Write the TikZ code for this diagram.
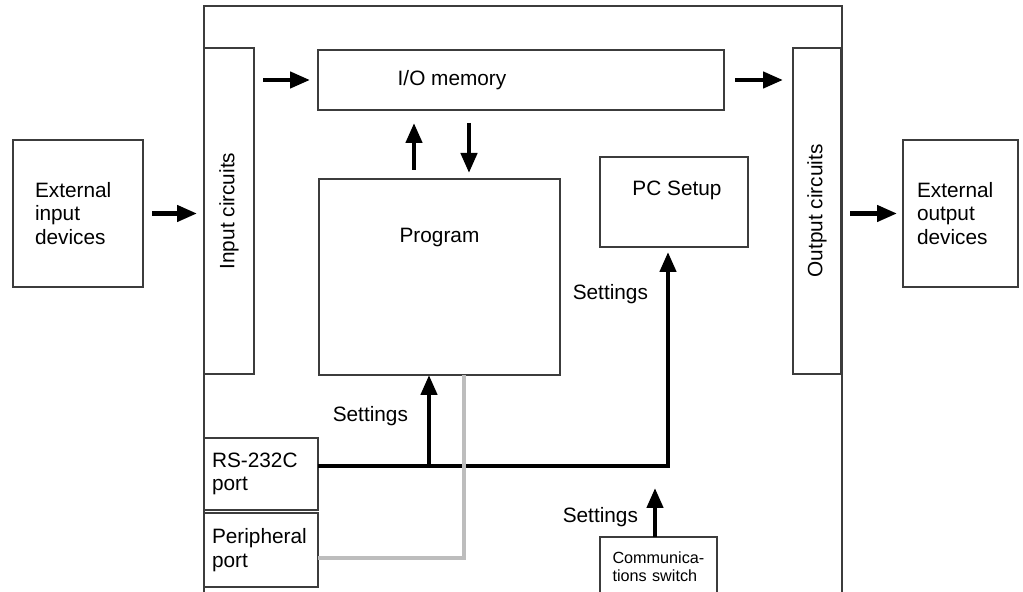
\documentclass[tikz,border=0pt]{standalone}
\usepackage{fontspec}
\setmainfont{Liberation Sans}
\usetikzlibrary{arrows.meta,calc,positioning}
\definecolor{boxline}{HTML}{3C3C3C}
\definecolor{cable}{HTML}{BDBDBD}

\begin{document}
\begin{tikzpicture}[x=0.5pt,y=-0.5pt, line join=miter,
  font=\fontsize{10.4}{11.8}\selectfont,
  box/.style={draw=boxline, line width=1.2pt, outer sep=0pt, inner sep=0pt},
  textbox/.style={box, align=left, inner xsep=#1},
  arr/.style={-{Triangle[length=10pt,width=8pt]}, line width=2.2pt},
  cable/.style={draw=cable, line width=2.2pt}]
  \useasboundingbox (0,0) rectangle (1023,592);
  \clip (0,0) rectangle (1023,592);
  % the PC frame, open at the bottom
  \draw[box] (204,600) -- (204,6) -- (842,6) -- (842,600);
  % outside devices
  \node[textbox=11pt, text width=43pt, minimum width=65pt, minimum height=73.5pt]
    (extin) at (78,213.5) {External\\input\\devices};
  \node[textbox=7pt, text width=43.5pt, minimum width=57.5pt, minimum height=73.5pt]
    (extout) at (960.5,213.5) {External\\output\\devices};
  % circuits and memory areas (rotated: north is the left side)
  \node[box, rotate=90, minimum width=163pt, minimum height=25pt] (incirc) at (229,211) {Input circuits};
  \node[box, rotate=90, minimum width=163pt, minimum height=24pt] (outcirc) at (817,211) {Output circuits};
  \node[box, minimum width=203pt, minimum height=30pt] (iomem) at (521,80) {};
  \node (iomemtxt) at (452,80) {I/O memory};
  \node[box, minimum width=120.5pt, minimum height=98pt] (program) at (439.5,277) {};
  \node (programtxt) at ($(program.north)+(0,59)$) {Program};
  \node[box, minimum width=74pt, minimum height=45pt] (pcsetup) at (674,202) {};
  \node (pcsetuptxt) at ($(pcsetup.north)+(3,33)$) {PC Setup};
  % ports and switch
  \node[textbox=4pt, text width=49pt, minimum width=57pt, minimum height=36pt]
    (rs232) at (261,474) {RS-232C\\port};
  \node[textbox=4pt, text width=49pt, minimum width=57pt, minimum height=37pt]
    (periph) at (261,550) {Peripheral\\port};
  \node[textbox=6.25pt, text width=46pt, minimum width=58.5pt, minimum height=29.5pt,
    font=\fontsize{8.1}{9}\selectfont] (switch) at (658.5,566.5) {Communica-\\tions switch};
  % data flow
  \draw[arr, shorten <=4.5pt, shorten >=3.5pt] (extin) -- (extin -| incirc.north);
  \draw[arr, shorten <=4.5pt, shorten >=4pt] (incirc.south |- iomem) -- (iomem);
  \draw[arr, shorten <=5.5pt, shorten >=5pt] (iomem) -- (iomem -| outcirc.north);
  \draw[arr, shorten <=4.5pt, shorten >=3pt] (outcirc.south |- extout) -- (extout);
  \draw[arr, shorten <=4.5pt, shorten >=6.5pt] ([xshift=-12.75pt]program.north)
    -- ([xshift=-12.75pt]program.north |- iomem.south);
  \draw[arr, shorten <=6.5pt, shorten >=3pt] ([xshift=14.75pt]program.north |- iomem.south)
    -- ([xshift=14.75pt]program.north);
  % settings from the ports
  \coordinate (jct) at (429,466);
  \draw[arr, shorten >=2.5pt] (rs232.east |- jct) -| ([xshift=-3pt]pcsetup.south);
  \draw[arr] (jct) -- (jct |- program.south);
  \coordinate (bend) at (464,558);
  \draw[cable] (periph.east |- bend) -- (bend) -- (bend |- program.south);
  \coordinate (swtip) at (655,488);
  \draw[arr] (switch.north -| swtip) -- (swtip);
  \node[anchor=east] (setprog) at (415,416) {Settings};
  \node[anchor=east] (setpc) at (655,294) {Settings};
  \node[anchor=east] (setsw) at (645,517) {Settings};
\end{tikzpicture}
\end{document}
